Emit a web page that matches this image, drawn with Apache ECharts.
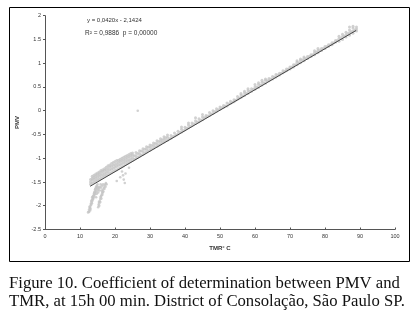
<!DOCTYPE html>
<html><head><meta charset="utf-8">
<script src="https://cdn.jsdelivr.net/npm/echarts@6/dist/echarts.min.js"></script>
<style>html,body{margin:0;padding:0;background:#fff}#c{width:420px;height:332px}</style>
</head><body><div id="c"></div>
<script>
// tick labels
const xTicks = [0,10,20,30,40,50,60,70,80,90,100];
const yTicks = [-2.5,-2,-1.5,-1,-0.5,0,0.5,1,1.5,2];
const xAxisName = 'TMR° C';
const yAxisName = 'PMV';
const equationText = 'y = 0,0420x - 2,1424';
const statsText = 'R² = 0,9886  p = 0,00000';
const captionLines = ['Figure 10. Coefficient of determination between PMV and','TMR, at 15h 00 min. District of Consolação, São Paulo SP.'];

// lower branches of the cloud (low TMR) and stray points
const lowerBranchPoints = [
[12.3,-2.14],[12.5,-2.12],[12.6,-2.08],[12.8,-2.05],[12.9,-2.1],[13.0,-2.0],[13.1,-1.96],[13.3,-1.93],[13.4,-1.88],
[13.6,-1.85],[13.7,-1.8],[13.9,-1.78],[14.0,-1.74],[14.2,-1.7],[14.3,-1.66],[14.5,-1.63],[14.6,-1.6],[14.8,-1.58],
[15.0,-1.55],[13.2,-1.9],[13.5,-1.82],[14.1,-1.76],[14.4,-1.72],[13.8,-1.84],[12.7,-2.02],
[12.6,-2.13],[12.9,-2.04],[13.2,-1.98],[13.5,-1.9],[13.8,-1.82],[14.1,-1.72],[14.4,-1.66],[14.7,-1.62],
[13.0,-2.07],[13.4,-1.95],[13.7,-1.87],[14.0,-1.8],[14.3,-1.76],[14.6,-1.7],[14.9,-1.64],
[15.2,-2.03],[15.3,-1.98],[15.5,-1.95],[15.6,-1.9],[15.8,-1.86],[15.9,-1.82],[16.1,-1.78],[16.3,-1.74],[16.4,-1.7],
[16.6,-1.66],[16.8,-1.62],[17.0,-1.58],[17.2,-1.55],[15.4,-1.92],[16.0,-1.8],[16.5,-1.72],[17.4,-1.52],[16.2,-1.68],
[15.5,-2.0],[15.8,-1.92],[16.1,-1.85],[16.4,-1.77],[16.7,-1.7],[17.0,-1.64],[17.3,-1.6],[17.6,-1.55],
[14.8,-1.75],[15.0,-1.68],[15.4,-1.62],[15.7,-1.6],[14.6,-1.82],[15.2,-1.72],
[15.1,-1.6],[15.6,-1.68],[16.0,-1.62],[16.3,-1.58],[15.9,-1.55],[16.6,-1.55],[15.3,-1.65],
[22.0,-1.28],[22.3,-1.36],[22.5,-1.45],[22.8,-1.52],[23.0,-1.32],[21.5,-1.4],[24.0,-1.2],[20.5,-1.48],[26.5,0.0]
];
// main band along the regression line
const mainBandPoints = [
[13,-1.55],[13,-1.5],[13,-1.45],
[13.5,-1.52],[13.5,-1.46],[13.5,-1.42],[13.5,-1.38],
[14,-1.5],[14,-1.44],[14,-1.4],[14,-1.36],
[14.5,-1.48],[14.5,-1.42],[14.5,-1.37],[14.5,-1.33],
[15,-1.46],[15,-1.4],[15,-1.35],[15,-1.31],
[15.5,-1.44],[15.5,-1.38],[15.5,-1.33],[15.5,-1.29],
[16,-1.42],[16,-1.36],[16,-1.3],[16,-1.26],
[16.5,-1.4],[16.5,-1.34],[16.5,-1.28],[16.5,-1.24],
[17,-1.38],[17,-1.32],[17,-1.26],[17,-1.22],
[17.5,-1.36],[17.5,-1.3],[17.5,-1.24],[17.5,-1.19],
[18,-1.34],[18,-1.28],[18,-1.22],[18,-1.16],
[18.5,-1.32],[18.5,-1.25],[18.5,-1.19],[18.5,-1.14],
[19,-1.3],[19,-1.23],[19,-1.17],[19,-1.11],
[19.5,-1.28],[19.5,-1.21],[19.5,-1.15],[19.5,-1.09],
[20,-1.26],[20,-1.19],[20,-1.13],[20,-1.07],
[20.5,-1.24],[20.5,-1.17],[20.5,-1.11],[20.5,-1.05],
[21,-1.22],[21,-1.15],[21,-1.09],[21,-1.04],
[21.5,-1.2],[21.5,-1.13],[21.5,-1.07],[21.5,-1.02],
[22,-1.18],[22,-1.11],[22,-1.05],[22,-1.0],
[22.5,-1.16],[22.5,-1.09],[22.5,-1.03],[22.5,-0.98],
[23,-1.13],[23,-1.07],[23,-1.01],[23,-0.96],
[23.5,-1.11],[23.5,-1.05],[23.5,-0.99],[23.5,-0.94],
[24,-1.09],[24,-1.03],[24,-0.97],[24,-0.92],
[24.5,-1.07],[24.5,-1.01],[24.5,-0.95],[24.5,-0.9],
[25,-1.05],[25,-0.99],[25,-0.93],[25,-0.89],
[25.5,-1.02],[25.5,-0.95],
[26,-1.0],[26,-0.94],[26,-0.88],
[26.5,-0.98],[26.5,-0.9],
[27,-0.96],[27,-0.9],[27,-0.84],
[27.5,-0.93],[27.5,-0.85],
[28,-0.92],[28,-0.86],[28,-0.8],
[28.5,-0.89],[28.5,-0.81],
[29,-0.87],[29,-0.81],[29,-0.76],
[29.5,-0.84],[29.5,-0.77],
[30,-0.83],[30,-0.77],[30,-0.72],
[30.5,-0.8],[30.5,-0.73],
[31,-0.79],[31,-0.73],[31,-0.68],
[31.5,-0.76],[31.5,-0.69],
[32,-0.75],[32,-0.69],[32,-0.63],
[32.5,-0.72],[32.5,-0.65],
[33,-0.7],[33,-0.64],[33,-0.59],
[33.5,-0.67],[33.5,-0.61],
[34,-0.66],[34,-0.6],[34,-0.55],
[34.5,-0.63],[34.5,-0.57],
[35,-0.62],[35,-0.56],[35,-0.51],
[35.5,-0.59],[36,-0.58],[36,-0.52],
[36.5,-0.55],[37,-0.53],[37,-0.47],
[37.5,-0.51],[38,-0.49],[38,-0.43],
[38.5,-0.46],[39,-0.45],[39,-0.39],[39,-0.34],
[39.5,-0.42],[40,-0.4],[40,-0.35],
[40.5,-0.37],[41,-0.36],[41,-0.3],[41,-0.26],
[41.5,-0.33],[42,-0.31],[42,-0.26],
[42.5,-0.28],[43,-0.27],[43,-0.21],[43,-0.15],
[43.5,-0.24],[44,-0.23],[44,-0.17],
[44.5,-0.2],[45,-0.19],[45,-0.13],[45,-0.08],
[45.5,-0.15],[46,-0.14],[46,-0.1],
[46.5,-0.11],[47,-0.1],[47,-0.04],
[47.5,-0.07],[48,-0.06],[48,0.0],
[48.5,-0.02],[49,-0.01],[49,0.04],
[49.5,0.02],[50,0.03],[50,0.08],
[50.5,0.06],[51,0.07],[51,0.11],
[51.5,0.1],[52,0.1],[52,0.16],
[52.5,0.14],[53,0.15],[53,0.2],
[53.5,0.18],[54,0.19],[54,0.23],
[54.5,0.22],[55,0.24],[55,0.3],
[55.5,0.27],[56,0.28],[56,0.33],[56,0.36],
[56.5,0.31],[57,0.32],[57,0.38],[57,0.41],
[57.5,0.36],[58,0.36],[58,0.42],[58,0.46],
[58.5,0.41],[59,0.41],[59,0.46],
[59.5,0.45],[60,0.45],[60,0.5],[60,0.55],
[60.5,0.5],[61,0.49],[61,0.55],[61,0.59],
[61.5,0.54],[62,0.54],[62,0.6],[62,0.64],
[62.5,0.59],[63,0.58],[63,0.64],[63,0.67],
[63.5,0.63],[64,0.63],[64,0.68],
[64.5,0.67],[65,0.67],[65,0.72],
[65.5,0.71],[66,0.71],[66,0.76],
[66.5,0.75],[67,0.75],[67,0.79],
[67.5,0.79],[68,0.8],[68,0.84],
[68.5,0.83],[69,0.84],[69,0.88],
[69.5,0.88],[70,0.88],[70,0.92],
[70.5,0.92],[71,0.92],[71,0.97],
[71.5,0.97],[72,0.97],[72,1.02],[72,1.05],
[72.5,1.01],[73,1.01],[73,1.06],[73,1.09],
[73.5,1.06],[74,1.05],[74,1.1],[74,1.13],
[74.5,1.1],[75,1.1],[75,1.14],
[75.5,1.14],[76,1.14],[76,1.18],
[76.5,1.18],[77,1.18],[77,1.22],[77,1.26],
[77.5,1.23],[78,1.22],[78,1.27],[78,1.31],
[78.5,1.27],[79,1.27],[79,1.31],
[79.5,1.31],[80,1.31],[80,1.35],
[80.5,1.35],[81,1.35],[81,1.39],
[81.5,1.39],[82,1.39],[82,1.43],
[82.5,1.43],[83,1.44],[83,1.48],
[83.5,1.48],[84,1.46],[84,1.52],[84,1.57],
[84.5,1.52],[85,1.5],[85,1.56],[85,1.61],
[85.5,1.57],[86,1.55],[86,1.6],[86,1.65],
[86.5,1.62],[87,1.59],[87,1.64],[87,1.7],[87,1.76],
[87.5,1.66],[88,1.63],[88,1.68],[88,1.74],[88,1.78],
[88.5,1.7],[89,1.68],[89,1.72],[89,1.76]
];
// fitted regression line end points
const fitLine = [[12.9,-1.59],[88.9,1.69]];

const chart = echarts.init(document.getElementById('c'), null, {renderer:'canvas'});
const lblFont = {fontFamily:'Liberation Sans', fontSize:5.5, color:'#333'};
chart.setOption({
  animation:false,
  backgroundColor:'#fff',
  grid:{left:45, right:25, top:15.7, bottom:102.5},
  xAxis:{type:'value', min:xTicks[0], max:xTicks[xTicks.length-1], interval:10,
    axisLine:{onZero:false, lineStyle:{color:'#555', width:1}},
    axisTick:{show:true, inside:true, length:2, lineStyle:{color:'#555'}},
    axisLabel:Object.assign({margin:4}, lblFont),
    splitLine:{show:false},
    name:xAxisName, nameLocation:'middle', nameGap:16,
    nameTextStyle:{fontFamily:'Liberation Sans', fontSize:6, color:'#333', fontWeight:'bold'}},
  yAxis:{type:'value', min:yTicks[0], max:yTicks[yTicks.length-1], interval:0.5,
    axisLine:{show:true, onZero:false, lineStyle:{color:'#555', width:1}},
    axisTick:{show:true, length:2, lineStyle:{color:'#555'}},
    axisLabel:Object.assign({margin:4}, lblFont),
    splitLine:{show:false},
    name:yAxisName, nameLocation:'middle', nameGap:23, nameRotate:90,
    nameTextStyle:{fontFamily:'Liberation Sans', fontSize:6, color:'#333', fontWeight:'bold'}},
  series:[
    {type:'scatter', data:mainBandPoints, symbolSize:3, itemStyle:{color:'#c6c6c6'}, silent:true},
    {type:'scatter', data:lowerBranchPoints, symbolSize:2.6, itemStyle:{color:'#c6c6c6'}, silent:true},
    {type:'line', data:fitLine, symbol:'none', lineStyle:{color:'#333', width:0.9}, silent:true}
  ],
  graphic:[
    {type:'rect', shape:{x:9.5, y:7.5, width:400, height:254}, style:{fill:'none', stroke:'#000', lineWidth:1}},
    {type:'text', x:87, y:17, style:{text:equationText, font:'6px "Liberation Sans"', fill:'#333'}},
    {type:'text', x:85, y:30, style:{text:statsText, font:'6.5px "Liberation Sans"', fill:'#333'}},
    {type:'text', x:9, y:275, style:{text:captionLines[0], font:'16.7px "Liberation Serif"', fill:'#111'}},
    {type:'text', x:9, y:293, style:{text:captionLines[1], font:'16.7px "Liberation Serif"', fill:'#111'}}
  ]
});
</script></body></html>
